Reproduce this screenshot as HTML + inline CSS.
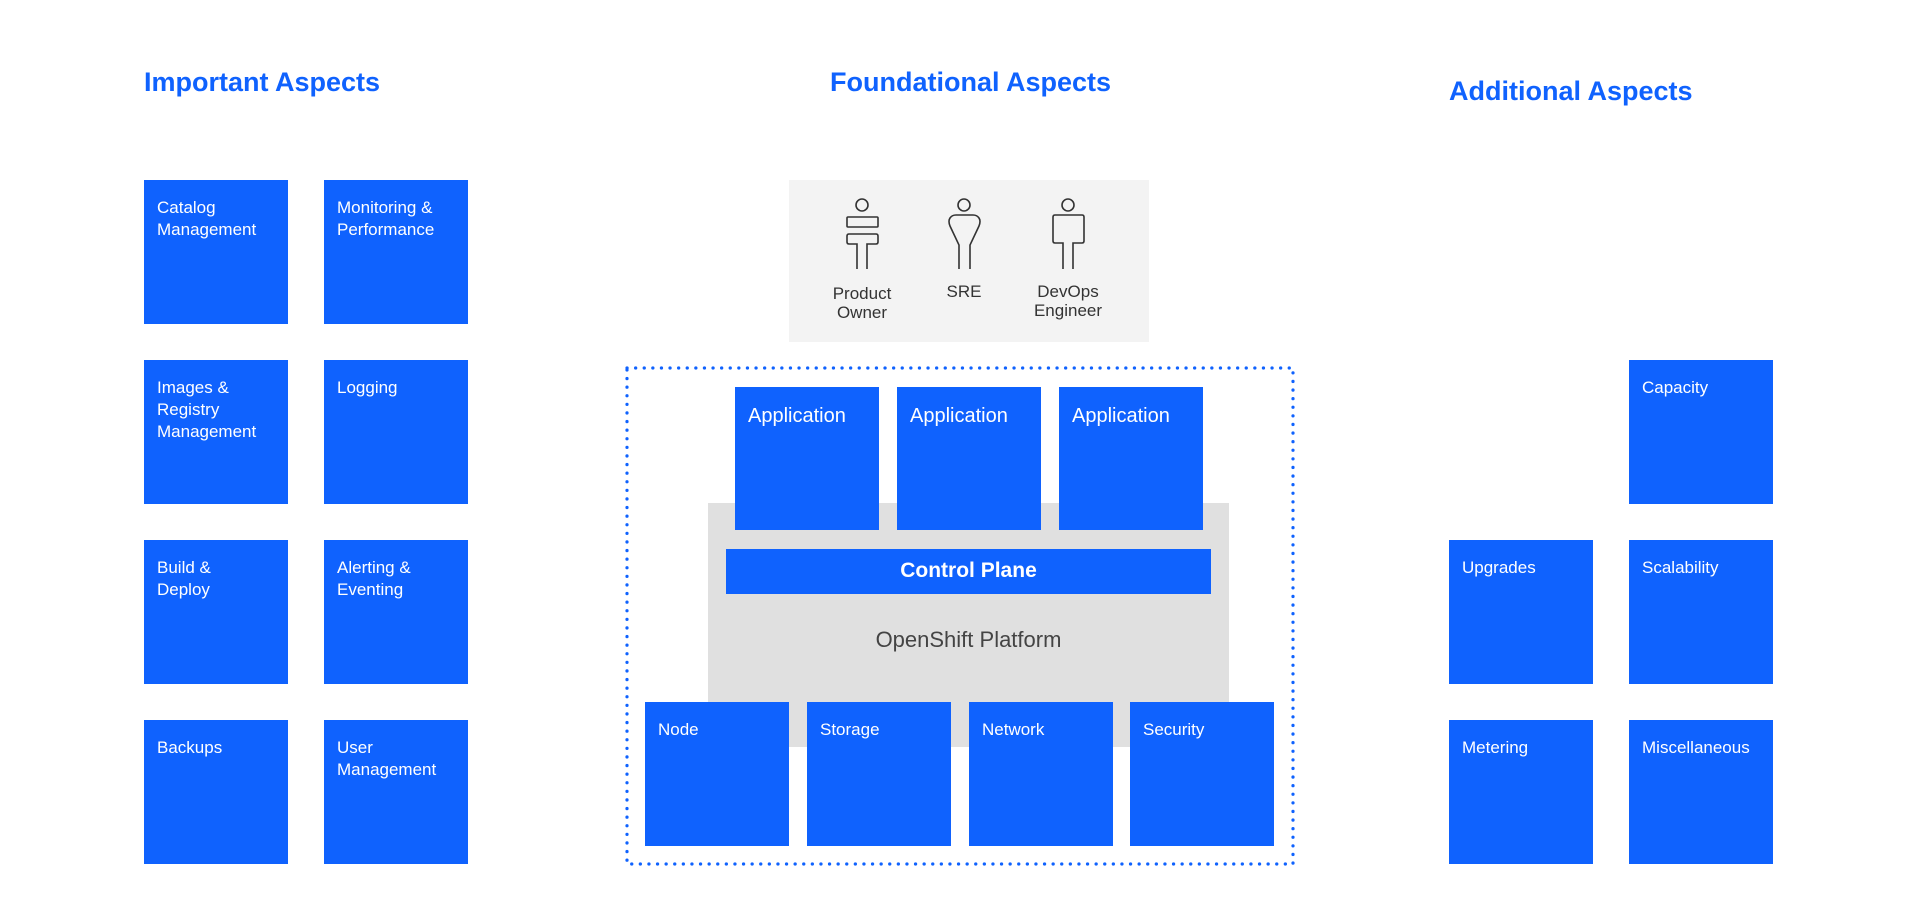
<!DOCTYPE html>
<html><head><meta charset="utf-8"><style>
body{margin:0;width:1920px;height:918px;background:#fff;position:relative;overflow:hidden;font-family:"Liberation Sans",sans-serif}
.t{position:absolute;color:#0f62fe;font-size:27px;font-weight:bold;white-space:nowrap}
.b{position:absolute;background:#0f62fe;color:#fff;width:144px;height:144px;box-sizing:border-box;padding:17px 0 0 13px;font-size:17px;line-height:22px}
.a{position:absolute;background:#0f62fe;color:#fff;width:144px;height:143px;box-sizing:border-box;padding:17px 0 0 13px;font-size:20px;line-height:24px}
.p{position:absolute;color:#333;font-size:17px;line-height:19px;text-align:center;width:100px}
</style></head><body>
<div class="t" style="left:144px;top:67px">Important Aspects</div>
<div class="t" style="left:830px;top:67px">Foundational Aspects</div>
<div class="t" style="left:1449px;top:76px">Additional Aspects</div>

<div class="b" style="left:144px;top:180px">Catalog<br>Management</div>
<div class="b" style="left:324px;top:180px">Monitoring &amp;<br>Performance</div>
<div class="b" style="left:144px;top:360px">Images &amp;<br>Registry<br>Management</div>
<div class="b" style="left:324px;top:360px">Logging</div>
<div class="b" style="left:144px;top:540px">Build &amp;<br>Deploy</div>
<div class="b" style="left:324px;top:540px">Alerting &amp;<br>Eventing</div>
<div class="b" style="left:144px;top:720px">Backups</div>
<div class="b" style="left:324px;top:720px">User<br>Management</div>

<div class="b" style="left:1629px;top:360px">Capacity</div>
<div class="b" style="left:1449px;top:540px">Upgrades</div>
<div class="b" style="left:1629px;top:540px">Scalability</div>
<div class="b" style="left:1449px;top:720px">Metering</div>
<div class="b" style="left:1629px;top:720px">Miscellaneous</div>

<div style="position:absolute;left:789px;top:180px;width:360px;height:162px;background:#f3f3f3"></div>
<svg style="position:absolute;left:0;top:0" width="1920" height="918" fill="none" stroke="#333" stroke-width="1.6">
<circle cx="862" cy="205" r="6"/>
<rect x="847" y="217" width="31" height="10" rx="1"/>
<path d="M857 269V244H849Q847 244 847 242V236Q847 234 849 234H876Q878 234 878 236V242Q878 244 876 244H867V269"/>
<circle cx="964" cy="205" r="6"/>
<path d="M959 269V245L950 226Q948 221 950 218Q952 215 956 215H973Q977 215 979 218Q981 221 979 226L970 245V269"/>
<circle cx="1068" cy="205" r="6"/>
<path d="M1063 269V243H1055Q1053 243 1053 241V217Q1053 215 1055 215H1082Q1084 215 1084 217V241Q1084 243 1082 243H1073V269"/>
<rect x="627" y="368" width="666" height="496" stroke="#0f62fe" stroke-width="3.2" stroke-dasharray="0.1 8.5" stroke-linecap="round"/>
</svg>
<div class="p" style="left:812px;top:284px">Product<br>Owner</div>
<div class="p" style="left:914px;top:282px">SRE</div>
<div class="p" style="left:1018px;top:282px">DevOps<br>Engineer</div>

<div style="position:absolute;left:708px;top:503px;width:521px;height:244px;background:#e0e0e0"></div>
<div class="a" style="left:735px;top:387px">Application</div>
<div class="a" style="left:897px;top:387px">Application</div>
<div class="a" style="left:1059px;top:387px">Application</div>
<div style="position:absolute;left:726px;top:549px;width:485px;height:45px;background:#0f62fe;color:#fff;font-weight:bold;font-size:21px;line-height:43px;text-align:center">Control Plane</div>
<div style="position:absolute;left:708px;width:521px;top:627px;text-align:center;color:#444;font-size:22px">OpenShift Platform</div>
<div class="b" style="left:645px;top:702px">Node</div>
<div class="b" style="left:807px;top:702px">Storage</div>
<div class="b" style="left:969px;top:702px">Network</div>
<div class="b" style="left:1130px;top:702px">Security</div>
</body></html>
